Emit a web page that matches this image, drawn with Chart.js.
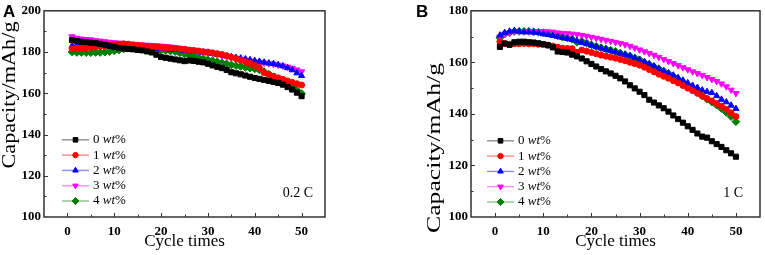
<!DOCTYPE html>
<html><head><meta charset="utf-8">
<script src="https://cdn.jsdelivr.net/npm/chart.js@4"></script>
<style>
html,body{margin:0;padding:0;background:#fff;}
#wrap{position:relative;width:765px;height:255px;overflow:hidden;background:#fff;}
canvas{position:absolute;top:0;}
.pl{position:absolute;font:bold 17px "Liberation Sans",Arial,sans-serif;color:#000;line-height:17px;}
</style></head><body>
<div id="wrap">
<canvas id="cA" width="382" height="255" style="left:0"></canvas>
<canvas id="cB" width="382" height="255" style="left:383px"></canvas>
<div class="pl" style="left:3px;top:3px">A</div>
<div class="pl" style="left:416px;top:3px">B</div>
</div>
<script>
const cycles = [1,2,3,4,5,6,7,8,9,10,11,12,13,14,15,16,17,18,19,20,21,22,23,24,25,26,27,28,29,30,31,32,33,34,35,36,37,38,39,40,41,42,43,44,45,46,47,48,49,50];
const seriesNames = ['0', '1', '2', '3', '4'];

// Panel A (0.2 C)
const capA0 = [185.8,185.3,185,184.8,184.5,184.3,184,183.5,183,182.5,182,181.7,181.5,181.3,181,180.8,180.3,179.8,178.7,177.6,177.2,176.8,176.4,176,175.6,175.9,175.7,175.3,175,174.3,173.5,172.8,172.2,171.3,170.2,169.7,169.2,168.6,168,167.4,167,166.5,166,165.5,165,164.2,163,161.8,160.3,158.6];
const capA1 = [181.5,181.8,182,182,182.2,182.5,182.8,183,183.3,183.5,183.8,184,183.8,183.5,183.3,183,182.8,182.6,182.5,182.3,182.2,182,181.8,181.5,181.3,181,180.7,180.5,180.2,180,179.6,179.2,178.8,178.2,177.5,176.8,176,175.3,174.5,173.5,172.4,170,169.2,168.3,167.5,166.8,166,165.3,164.6,164];
const capA2 = [183,183.3,183.5,183.5,183.5,183.3,183,183,182.8,182.5,182.3,182.2,182,182,182,181.8,181.8,181.7,181.7,181.6,181.5,181.3,181.2,181,180.8,180.5,180.3,180,179.8,179.5,179.2,178.8,178.5,178,177.7,177.3,177,176.6,176.2,175.8,175.4,175,174.6,174.3,173.8,173.2,172.3,171.3,169.8,168.5];
const capA3 = [187.5,186.8,186.4,186.2,186,185.7,185.4,185.1,184.8,184.6,184.4,184.2,184,183.8,183.6,183.5,183.4,183.3,183.1,183,182.8,182.5,182.2,181.9,181.6,181.3,181,180.6,180.2,179.8,179.3,178.8,178.3,177.8,177.3,176.9,176.5,176.1,175.7,175.3,175,174.7,174.4,174.1,173.7,173.3,172.8,172.2,171.4,170.5];
const capA4 = [180,179.8,179.8,179.7,179.7,179.8,179.8,180,180.2,180.6,181,181.5,182.2,182.8,182.6,182.2,181.6,181.3,181.1,180.9,180.7,180.5,180.2,179.6,179,178.5,177.8,177.3,176.8,176.3,175.8,175.3,174.8,174.3,173.8,173.4,173,172.6,172.2,171.8,171.3,170.5,169.2,167.8,166.8,165.5,164.3,163,161.5,159.8];

// Panel B (1 C)
const capB0 = [166,167.3,166.8,167.8,168,168,167.8,167.7,167.4,167,166.6,165.8,164.2,164,163.8,163,162.3,161.5,160.4,159.4,158.4,157.4,156.5,155.7,154.8,153.8,152.6,151.1,149.9,148.6,147.3,145.5,144.4,143.3,142.2,140.9,139.4,138,136.6,135.2,133.8,132.4,131.2,130.8,129.4,128.3,127.2,125.9,124.7,123.4];
const capB1 = [168,167.3,167,167.2,167.2,167.3,167.2,167.2,167,167,166.7,166.3,165.9,165.5,165.4,165.3,163.9,164.8,164.3,163.8,163.3,162.8,162.4,162,161.6,161.1,160.6,160,159.5,158.9,158.1,157.2,156.3,155.4,154.6,153.8,152.9,152,151,150,149,148,147,146,145,144,143,141.8,140.4,139];
const capB2 = [170.5,171.5,172,172.3,172,171.8,171.8,171.7,171.5,171,170.7,170.3,170,169.6,169.2,168.8,168.3,167.7,167.2,166.6,166,165.5,165,164.5,164,163.5,163,162.5,161.7,161,160.2,159.3,158.5,157.6,156.7,155.8,155,154,153,152,151,150.2,149.2,148.6,148.2,147,145.6,144.6,143.3,142];
const capB3 = [169.8,171,171.5,172,172,172,172,172,172,172,171.9,171.8,171.5,171.3,171.2,171,170.8,170.5,170.2,169.8,169.4,169,168.6,168.2,167.8,167.4,166.9,166.3,165.6,164.9,164.2,163.5,162.8,162,161.2,160.4,159.6,158.8,158,157.2,156.4,155.7,155,154.2,153.4,152.6,151.7,150.6,149.3,148];
const capB4 = [169.5,171,171.5,172,172,172,172,171.8,171.7,171.5,171.3,171,170.3,169.8,169.5,169,167.8,168.2,167.5,166.8,166.2,165.7,165.2,164.7,164.2,163.6,163,162.4,161.7,161,160,159.2,158.3,157.5,156.6,155.6,154.6,153.4,152.2,150.9,149.7,148.4,147,145.7,144.6,143.4,142.1,140.6,139,137];

const xTickLabels = [0, 10, 20, 30, 40, 50];
const yTicksA = [100, 120, 140, 160, 180, 200];
const yTicksB = [100, 120, 140, 160, 180];
const yTitle = 'Capacity/mAh/g';
const xTitle = 'Cycle times';

const styles = [
  {point:'#000000', line:'rgba(0,0,0,0.45)', shape:'rect', r:3.6, rot:0},
  {point:'#ff0000', line:'rgba(255,0,0,0.45)', shape:'circle', r:3.0, rot:0},
  {point:'#0000ff', line:'rgba(0,0,255,0.45)', shape:'triangle', r:3.6, rot:0},
  {point:'#ff00ff', line:'rgba(255,0,255,0.45)', shape:'triangle', r:3.6, rot:180},
  {point:'#008000', line:'rgba(0,128,0,0.45)', shape:'rectRot', r:3.9, rot:0}
];

const SERIF = '"Liberation Serif", "Times New Roman", serif';

function makeDatasets(arrs){
  return arrs.map((arr, i) => ({
    label: seriesNames[i] + ' wt%',
    data: cycles.map((c, k) => ({x: c, y: arr[k]})),
    borderColor: styles[i].line,
    borderWidth: 1,
    backgroundColor: styles[i].point,
    pointBackgroundColor: styles[i].point,
    pointBorderColor: styles[i].point,
    pointBorderWidth: 1,
    pointStyle: styles[i].shape,
    pointRotation: styles[i].rot,
    pointRadius: styles[i].r,
    tension: 0
  }));
}

function drawMarker(ctx, st, x, y){
  ctx.save();
  ctx.fillStyle = st.point; ctx.strokeStyle = st.point; ctx.lineWidth = 1;
  if (Chart.helpers && Chart.helpers.drawPoint) {
    Chart.helpers.drawPoint(ctx, {pointStyle: st.shape, radius: st.r * 0.9, rotation: st.rot, borderWidth: 1}, x, y);
  } else {
    ctx.beginPath(); ctx.arc(x, y, st.r, 0, Math.PI*2); ctx.fill();
  }
  ctx.restore();
}

const framePlugin = {
  id: 'frame',
  afterDraw(chart, args, opts){
    const ctx = chart.ctx, a = chart.chartArea;
    const xs = chart.scales.x, ys = chart.scales.y;
    ctx.save();
    ctx.strokeStyle = '#333'; ctx.lineWidth = 1.5;
    ctx.strokeRect(a.left, a.top, a.right - a.left, a.bottom - a.top);
    ctx.lineWidth = 1;
    ctx.beginPath();
    for (let v = xs.min + 5; v < xs.max; v += 5) {
      const px = Math.round(xs.getPixelForValue(v)) + 0.5;
      const len = (v % 10 === 0) ? 4 : 2.5;
      ctx.moveTo(px, a.bottom); ctx.lineTo(px, a.bottom - len);
    }
    for (let v = ys.min + 10; v < ys.max; v += 10) {
      const py = Math.round(ys.getPixelForValue(v)) + 0.5;
      const len = (v % 20 === 0) ? 4 : 2.5;
      ctx.moveTo(a.left, py); ctx.lineTo(a.left + len, py);
    }
    ctx.stroke();

    // y-axis title (stretched along its length like the reference)
    ctx.save();
    ctx.translate(opts.yTitleX, opts.yTitleY);
    ctx.rotate(-Math.PI / 2);
    ctx.font = opts.yTitleSize + 'px ' + SERIF;
    const w = ctx.measureText(yTitle).width;
    ctx.scale(opts.yTitleLen / w, 1);
    ctx.fillStyle = '#000'; ctx.textAlign = 'center'; ctx.textBaseline = 'middle';
    ctx.fillText(yTitle, 0, 0);
    ctx.restore();

    // legend
    const fs = 13;
    for (let i = 0; i < 5; i++) {
      const st = styles[i];
      const y = a.bottom - opts.legBottom - (4 - i) * 15.3;
      const x0 = a.left + opts.legLeft;
      ctx.strokeStyle = st.line; ctx.lineWidth = 1.4;
      ctx.beginPath(); ctx.moveTo(x0, y); ctx.lineTo(x0 + 27, y); ctx.stroke();
      drawMarker(ctx, st, x0 + 13.5, y);
      ctx.fillStyle = '#000'; ctx.textBaseline = 'middle'; ctx.textAlign = 'left';
      let tx = x0 + 31;
      ctx.font = fs + 'px ' + SERIF;
      const t1 = seriesNames[i] + ' ';
      ctx.fillText(t1, tx, y); tx += ctx.measureText(t1).width;
      ctx.font = 'italic ' + fs + 'px ' + SERIF;
      ctx.fillText('wt', tx, y); tx += ctx.measureText('wt').width;
      ctx.font = fs + 'px ' + SERIF;
      ctx.fillText('%', tx, y);
    }
    // rate label
    ctx.font = '14px ' + SERIF;
    ctx.textAlign = 'right'; ctx.textBaseline = 'middle'; ctx.fillStyle = '#000';
    ctx.fillText(opts.rate, a.right - opts.rateRight, a.bottom - 24);
    ctx.restore();
  }
};

function makeChart(id, arrs, yMin, yMax, yTicks, pad, yWidth, fo){
  return new Chart(document.getElementById(id), {
    type: 'line',
    data: {datasets: makeDatasets(arrs)},
    plugins: [framePlugin],
    options: {
      responsive: false,
      animation: false,
      layout: {padding: pad},
      plugins: {
        legend: {display: false},
        tooltip: {enabled: false},
        frame: fo
      },
      scales: {
        x: {
          type: 'linear', min: -5, max: 55,
          grid: {display: false, drawTicks: false, tickLength: 0}, border: {display: false},
          afterBuildTicks(s){ s.ticks = xTickLabels.map(v => ({value: v})); },
          afterFit(s){ s.height = 38; },
          ticks: {color: '#000', padding: 7, font: {family: SERIF, size: 13, weight: 'bold'}},
          title: {display: true, text: xTitle, color: '#000', padding: {top: 0, bottom: 3},
                  font: {family: SERIF, size: 17, lineHeight: 1.2}}
        },
        y: {
          type: 'linear', min: yMin, max: yMax,
          grid: {display: false, drawTicks: false, tickLength: 0}, border: {display: false},
          afterBuildTicks(s){ s.ticks = yTicks.map(v => ({value: v})); },
          afterFit(s){ s.width = yWidth; },
          ticks: {color: '#000', padding: 3, font: {family: SERIF, size: 13, weight: 'bold'}},
          title: {display: false}
        }
      }
    }
  });
}

makeChart('cA', [capA0, capA1, capA2, capA3, capA4], 100, 200, yTicksA,
  {left: 0, right: 57, top: 6, bottom: 0}, 44,
  {rate: '0.2 C', rateRight: 12, legLeft: 18, legBottom: 16, yTitleX: 10, yTitleY: 95, yTitleLen: 147, yTitleSize: 18});
makeChart('cB', [capB0, capB1, capB2, capB3, capB4], 100, 180, yTicksB,
  {left: 42, right: 3, top: 8, bottom: 0}, 46,
  {rate: '1 C', rateRight: 17, legLeft: 16, legBottom: 15, yTitleX: 52, yTitleY: 148, yTitleLen: 170, yTitleSize: 18});
</script>
</body></html>
